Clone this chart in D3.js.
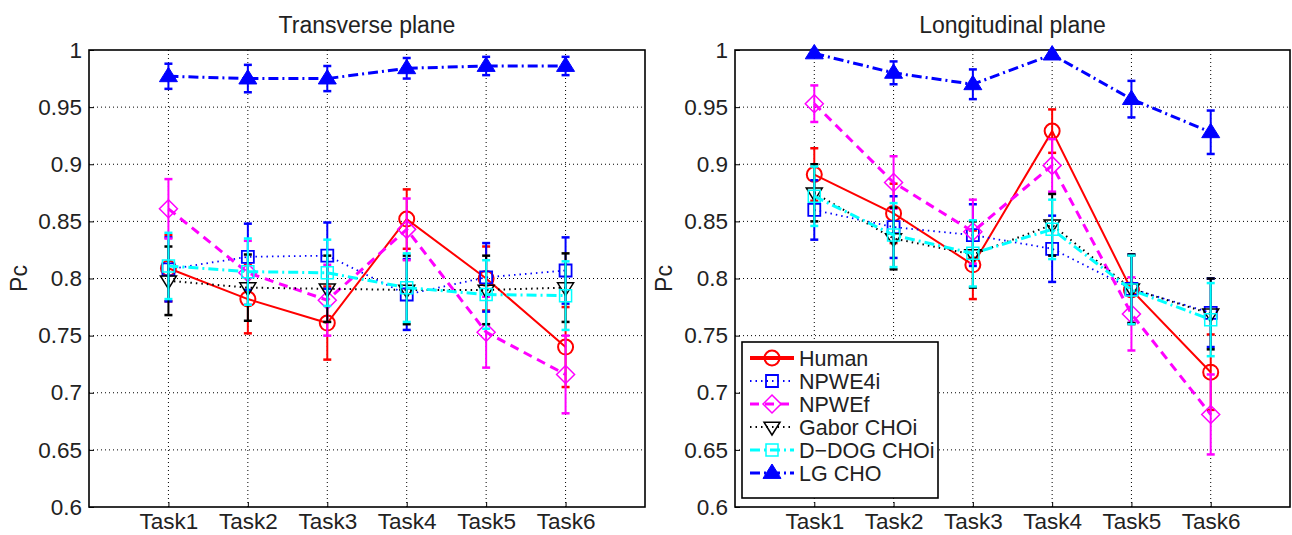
<!DOCTYPE html>
<html><head><meta charset="utf-8">
<script src="https://cdn.jsdelivr.net/npm/d3@7"></script>
<style>body{margin:0;background:#fff}svg{display:block}text{font-family:"Liberation Sans",Arial,sans-serif;fill:#222}</style>
</head><body>
<svg id="c" width="1292" height="535"></svg>
<script>
const tasks = ["Task1","Task2","Task3","Task4","Task5","Task6"];
const yTicks = [0.6,0.65,0.7,0.75,0.8,0.85,0.9,0.95,1];
const yTickLabels = ["0.6","0.65","0.7","0.75","0.8","0.85","0.9","0.95","1"];
const seriesNames = ["Human","NPWE4i","NPWEf","Gabor CHOi","D\u2212DOG CHOi","LG CHO"];
const panelTitles = ["Transverse plane","Longitudinal plane"];

// Transverse plane: means and error half-widths
const transHuman   = [0.809,0.782,0.761,0.852,0.800,0.740];
const transHumanE  = [0.029,0.030,0.032,0.026,0.028,0.035];
const transNPWE4i  = [0.808,0.819,0.820,0.786,0.801,0.807];
const transNPWE4iE = [0.028,0.029,0.029,0.031,0.030,0.029];
const transNPWEf   = [0.861,0.805,0.781,0.843,0.753,0.716];
const transNPWEfE  = [0.026,0.028,0.031,0.027,0.031,0.034];
const transGabor   = [0.798,0.792,0.791,0.790,0.790,0.792];
const transGaborE  = [0.030,0.029,0.029,0.030,0.030,0.030];
const transDDOG    = [0.811,0.806,0.805,0.792,0.786,0.785];
const transDDOGE   = [0.029,0.029,0.029,0.030,0.030,0.030];
const transLG      = [0.977,0.975,0.975,0.984,0.986,0.986];
const transLGE     = [0.011,0.012,0.011,0.009,0.008,0.008];

// Longitudinal plane
const longHuman    = [0.891,0.857,0.812,0.929,0.790,0.718];
const longHumanE   = [0.023,0.026,0.030,0.019,0.030,0.033];
const longNPWE4i   = [0.860,0.845,0.838,0.826,0.791,0.770];
const longNPWE4iE  = [0.026,0.027,0.027,0.029,0.030,0.030];
const longNPWEf    = [0.953,0.884,0.841,0.899,0.769,0.681];
const longNPWEfE   = [0.016,0.023,0.028,0.023,0.032,0.035];
const longGabor    = [0.875,0.835,0.821,0.847,0.791,0.769];
const longGaborE   = [0.025,0.027,0.029,0.027,0.030,0.031];
const longDDOG     = [0.872,0.838,0.822,0.843,0.790,0.764];
const longDDOGE    = [0.026,0.028,0.029,0.026,0.030,0.032];
const longLG       = [0.997,0.980,0.970,0.996,0.957,0.928];
const longLGE      = [0.003,0.010,0.013,0.003,0.016,0.019];

const styles = [
  {color:"#ff0000", dash:null,        lw:2,   marker:"circle",   fill:"none", mlw:2},
  {color:"#0000ff", dash:"1.5,4",     lw:1.8, marker:"square",   fill:"none", mlw:1.8},
  {color:"#ff00ff", dash:"9,6",       lw:3,   marker:"diamond",  fill:"none", mlw:1.5},
  {color:"#000000", dash:"1.5,4",     lw:2,   marker:"tridown",  fill:"none", mlw:1.5},
  {color:"#00ffff", dash:"10,4,2,4",  lw:3,   marker:"square",   fill:"none", mlw:1.5},
  {color:"#0000ff", dash:"10,4,2,4",  lw:3,   marker:"triup",    fill:"#0000ff", mlw:1}
];

const panels = [
  {title:panelTitles[0], x0:89, x1:645, means:[transHuman,transNPWE4i,transNPWEf,transGabor,transDDOG,transLG],
   errs:[transHumanE,transNPWE4iE,transNPWEfE,transGaborE,transDDOGE,transLGE], legend:false, ylabX:27},
  {title:panelTitles[1], x0:735, x1:1290, means:[longHuman,longNPWE4i,longNPWEf,longGabor,longDDOG,longLG],
   errs:[longHumanE,longNPWE4iE,longNPWEfE,longGaborE,longDDOGE,longLGE], legend:true, ylabX:672}
];

const svg = d3.select("#c");
const plotTop = 50, plotBottom = 507;
const tickFont = "22.5px";

function markerPath(type, cx, cy){
  switch(type){
    case "square": { const s=6; return `M${cx-s},${cy-s}H${cx+s}V${cy+s}H${cx-s}Z`; }
    case "diamond": { const s=9; return `M${cx},${cy-s}L${cx+s},${cy}L${cx},${cy+s}L${cx-s},${cy}Z`; }
    case "tridown": { const s=8; return `M${cx-s},${cy-s*0.6}L${cx+s},${cy-s*0.6}L${cx},${cy+s}Z`; }
    case "triup": { const s=9; return `M${cx-s},${cy+s*0.6}L${cx+s},${cy+s*0.6}L${cx},${cy-s}Z`; }
  }
  return "";
}
function drawMarker(g, st, cx, cy){
  if(st.marker==="circle"){
    g.append("circle").attr("cx",cx).attr("cy",cy).attr("r",7.5)
      .attr("fill","none").attr("stroke",st.color).attr("stroke-width",st.mlw);
  } else {
    g.append("path").attr("d",markerPath(st.marker,cx,cy))
      .attr("fill",st.fill).attr("stroke",st.color).attr("stroke-width",st.mlw)
      .attr("stroke-linejoin","miter");
  }
}

panels.forEach(p=>{
  const x = d3.scaleLinear().domain([0,7]).range([p.x0,p.x1]);
  const y = d3.scaleLinear().domain([0.6,1]).range([plotBottom,plotTop]);
  const g = svg.append("g");

  yTicks.forEach(t=>{
    if(t>0.6 && t<1) g.append("line").attr("x1",p.x0).attr("x2",p.x1).attr("y1",y(t)).attr("y2",y(t))
      .attr("stroke","#000").attr("stroke-width",1).attr("stroke-dasharray","1,3");
  });
  tasks.forEach((t,i)=>{
    g.append("line").attr("x1",x(i+1)).attr("x2",x(i+1)).attr("y1",plotTop).attr("y2",plotBottom)
      .attr("stroke","#000").attr("stroke-width",1).attr("stroke-dasharray","1,3");
  });

  const yAxis = d3.axisLeft(y).tickValues(yTicks).tickFormat((d,i)=>yTickLabels[i]).tickSize(-5).tickPadding(7);
  const ga = g.append("g").attr("transform",`translate(${p.x0},0)`).call(yAxis);
  ga.select(".domain").remove();
  ga.selectAll("line").attr("stroke","#000");
  ga.selectAll("text").style("font-size",tickFont).style("font-family","Liberation Sans, Arial, sans-serif").attr("fill","#222");
  const xAxis = d3.axisBottom(x).tickValues([1,2,3,4,5,6]).tickFormat((d,i)=>tasks[i]).tickSize(-5).tickPadding(6);
  const gx = g.append("g").attr("transform",`translate(0,${plotBottom})`).call(xAxis);
  gx.select(".domain").remove();
  gx.selectAll("line").attr("stroke","#000");
  gx.selectAll("text").style("font-size",tickFont).style("font-family","Liberation Sans, Arial, sans-serif").attr("fill","#222");

  g.append("rect").attr("x",p.x0).attr("y",plotTop).attr("width",p.x1-p.x0).attr("height",plotBottom-plotTop)
    .attr("fill","none").attr("stroke","#000").attr("stroke-width",1.6);

  g.append("text").attr("x",(p.x0+p.x1)/2).attr("y",33).attr("text-anchor","middle").style("font-size","23px").text(p.title);
  g.append("text").attr("transform",`translate(${p.ylabX},${(plotTop+plotBottom)/2}) rotate(-90)`)
    .attr("text-anchor","middle").style("font-size","23px").text("Pc");

  p.means.forEach((m,si)=>{
    const st = styles[si];
    const e = p.errs[si];
    const sg = g.append("g");
    m.forEach((v,i)=>{
      const cx = x(i+1);
      sg.append("line").attr("x1",cx).attr("x2",cx).attr("y1",y(v-e[i])).attr("y2",y(v+e[i]))
        .attr("stroke",st.color).attr("stroke-width",2);
      [v-e[i],v+e[i]].forEach(w=>{
        sg.append("line").attr("x1",cx-4).attr("x2",cx+4).attr("y1",y(w)).attr("y2",y(w))
          .attr("stroke",st.color).attr("stroke-width",2.5);
      });
    });
    const line = d3.line().x((d,i)=>x(i+1)).y(d=>y(d));
    sg.append("path").attr("d",line(m)).attr("fill","none").attr("stroke",st.color)
      .attr("stroke-width",st.lw).attr("stroke-dasharray",st.dash);
    m.forEach((v,i)=>drawMarker(sg,st,x(i+1),y(v)));
  });

  if(p.legend){
    const lx = 742, ly = 342, lw = 196, lh = 156;
    const lg = g.append("g");
    lg.append("rect").attr("x",lx).attr("y",ly).attr("width",lw).attr("height",lh)
      .attr("fill","#fff").attr("stroke","#000").attr("stroke-width",1.6);
    seriesNames.forEach((nm,si)=>{
      const st = styles[si];
      const yy = ly + 16 + si*23;
      lg.append("line").attr("x1",lx+8).attr("x2",lx+52).attr("y1",yy).attr("y2",yy)
        .attr("stroke",st.color).attr("stroke-width",si===0?4:st.lw).attr("stroke-dasharray",st.dash);
      drawMarker(lg, st, lx+30, yy);
      lg.append("text").attr("x",lx+57).attr("y",yy+7.5).style("font-size","21.5px").text(nm);
    });
  }
});
</script>
</body></html>
